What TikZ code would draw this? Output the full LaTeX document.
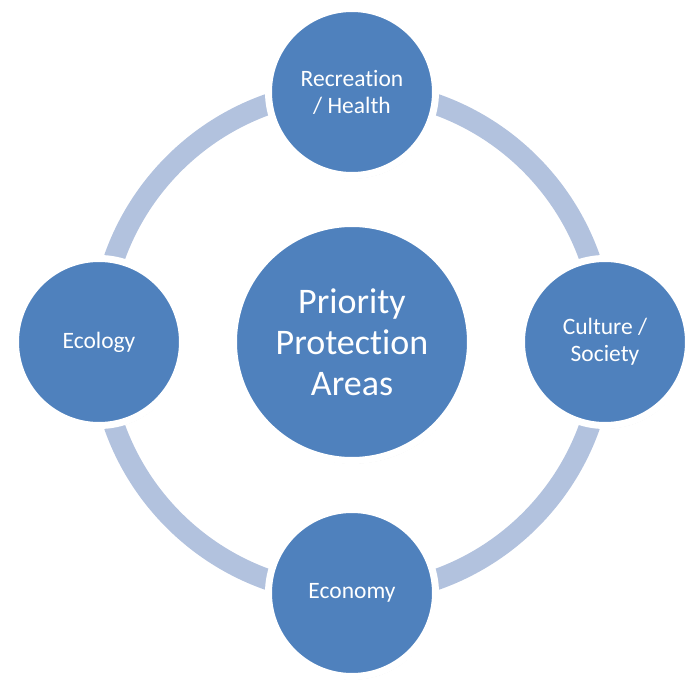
\documentclass[tikz,border=0pt]{standalone}
\usepackage{fontspec}
\setmainfont{Carlito}[Ligatures=NoCommon]
\usetikzlibrary{shadows}
\definecolor{areablue}{RGB}{79,129,189}
\definecolor{ringblue}{RGB}{178,194,222}
\newcommand{\nolig}{\kern0pt}

\begin{document}
\begin{tikzpicture}[x=1pt, y=1pt,
  area/.style={circle, fill=areablue, draw=white, line width=7pt, text=white, align=center,
    drop shadow={shadow xshift=1pt, shadow yshift=-3pt, opacity=0.18, fill=black}},
  theme/.style={area, minimum size=167pt, font=\fontsize{23.5}{27}\selectfont},
  core/.style={area, minimum size=237pt, font=\fontsize{36}{41}\selectfont},
  ring/.style={draw=ringblue, line width=21pt}]
  \useasboundingbox (-352,-341) rectangle (334,342);
  \coordinate (hub) at (0,0);
  \draw[ring] (hub) circle (252);
  \node[core] (ppa) at (hub) {Priority\\Protect\nolig ion\\Areas};
  \node[theme] (rec) at (0,250) {Recreat\nolig ion\\/ Health};
  \node[theme] (cul) at (253,0) {Culture /\\Society};
  \node[theme] (eco) at (0,-251) {Economy};
  \node[theme] (ecl) at (-253,0) {Ecology};
\end{tikzpicture}
\end{document}
